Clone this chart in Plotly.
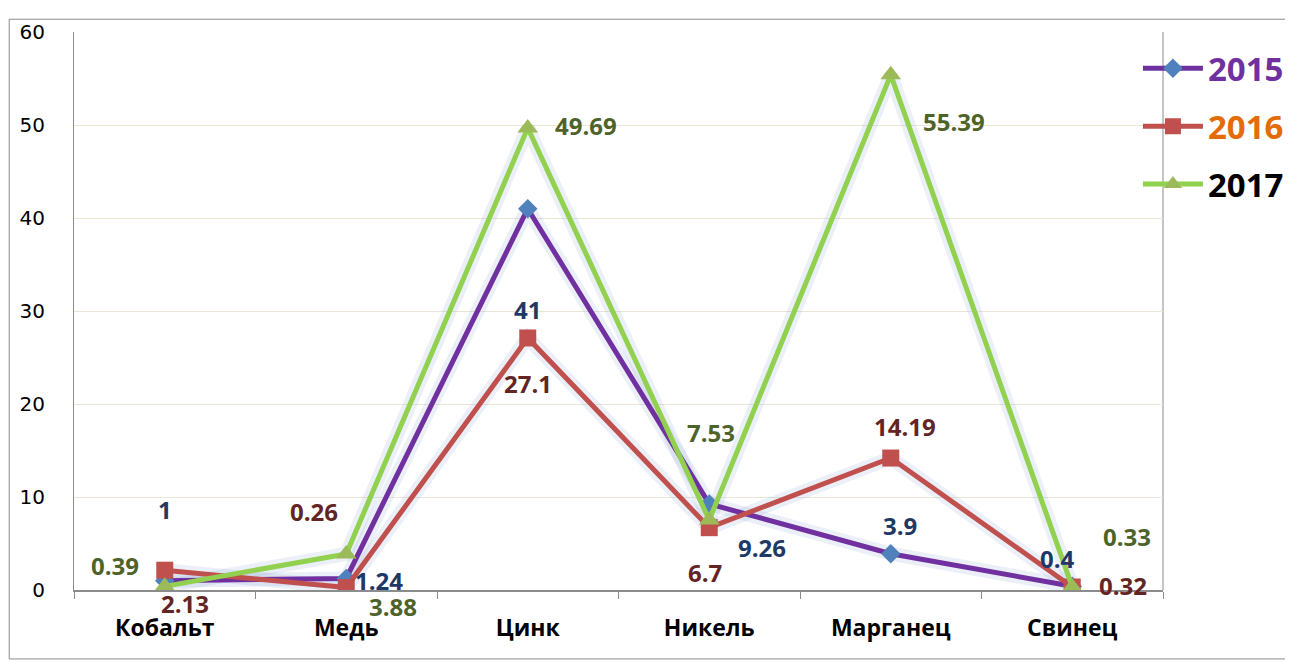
import plotly.graph_objects as go

categories = ["Кобальт", "Медь", "Цинк", "Никель", "Марганец", "Свинец"]
years = ["2015", "2016", "2017"]
v2015 = [1, 1.24, 41, 9.26, 3.9, 0.4]
v2016 = [2.13, 0.26, 27.1, 6.7, 14.19, 0.32]
v2017 = [0.39, 3.88, 49.69, 7.53, 55.39, 0.33]
y_ticks = [0, 10, 20, 30, 40, 50, 60]

series = [v2015, v2016, v2017]
line_colors = ["#7030A0", "#C0504D", "#92D050"]
marker_colors = ["#4F81BD", "#C0504D", "#9BBB59"]
symbols = ["diamond", "square", "triangle-up"]
marker_sizes = [15, 17, 18]
legend_colors = ["#7030A0", "#E36C09", "#000000"]
label_colors = ["#1F3864", "#632523", "#4F6228"]

# pixel offsets of data labels (dx, dy up positive)
offsets = [
    [(0, 71), (33, -2), (0, -101), (53, -44), (9, 28), (-15, 28)],
    [(20, -33), (-32, 76), (0, -46), (-4, -45), (14, 32), (51, 2)],
    [(-50, 21), (47, -53), (58, 2), (2, 87), (63, -47), (55, 50)],
]

fig = go.Figure()
# soft shadow under lines
for i, vals in enumerate(series):
    fig.add_trace(go.Scatter(
        x=categories, y=vals, mode="lines",
        line=dict(color="rgba(120,150,200,0.15)", width=14),
        showlegend=False, hoverinfo="skip"))

for i, vals in enumerate(series):
    fig.add_trace(go.Scatter(
        x=categories, y=vals, mode="lines+markers",
        name=f"<span style='color:{legend_colors[i]}'>{years[i]}</span>",
        line=dict(color=line_colors[i], width=5),
        marker=dict(symbol=symbols[i], color=marker_colors[i], size=marker_sizes[i],
                    line=dict(width=0)),
        legendgroup=years[i],
    ))

annotations = []
for i, vals in enumerate(series):
    for j, v in enumerate(vals):
        dx, dy = offsets[i][j]
        annotations.append(dict(
            x=categories[j], y=v, xref="x", yref="y", text=f"{v:g}",
            showarrow=False, xshift=dx, yshift=dy,
            font=dict(family="Open Sans", size=24, color=label_colors[i], weight="bold"),
        ))

fig.update_layout(
    width=1293, height=662,
    margin=dict(l=65, r=136, t=15, b=80),
    paper_bgcolor="white", plot_bgcolor="white",
    annotations=annotations,
    showlegend=True,
    legend=dict(x=0.977, y=0.985, xanchor="left", yanchor="top",
                font=dict(family="Open Sans", size=33, color="#000000", weight="bold"),
                tracegroupgap=12, itemwidth=60, bgcolor="rgba(0,0,0,0)"),
    xaxis=dict(
        type="category", range=[-0.5, 5.5],
        showline=True, linecolor="#8c8c8c", linewidth=2,
        ticks="outside", tickson="boundaries", ticklen=7, tickcolor="#8c8c8c",
        tickfont=dict(family="Open Sans", size=23, color="#000000", weight="bold"),
        ticklabelstandoff=16,
        showgrid=False,
    ),
    yaxis=dict(
        range=[0, 60], tickvals=y_ticks,
        showline=True, linecolor="#8c8c8c", linewidth=1,
        gridcolor="#ebe6d6", gridwidth=1,
        tickfont=dict(family="DejaVu Sans", size=20, color="#000000"),
        ticks="", ticklabelstandoff=24, zeroline=False,
    ),
    shapes=[dict(type="rect", xref="paper", yref="paper",
                 x0=-0.0595, x1=1.1145, y0=-0.1235, y1=1.0229,
                 line=dict(color="#8c8c8c", width=1))],
)
# right vertical line of plot area
fig.add_shape(type="line", xref="paper", yref="paper", x0=1, x1=1, y0=0, y1=1,
              line=dict(color="#8c8c8c", width=1), layer="below")

fig.write_html("out.html")
